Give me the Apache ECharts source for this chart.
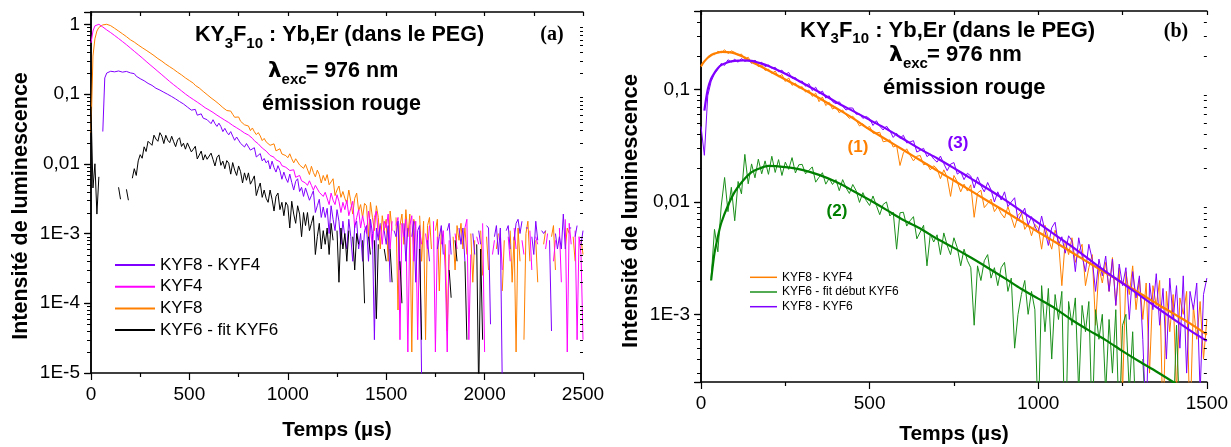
<!DOCTYPE html>
<html>
<head>
<meta charset="utf-8">
<script src="https://cdn.jsdelivr.net/npm/echarts@6/dist/echarts.min.js"></script>
<style>
html, body { margin: 0; padding: 0; background: #fff; }
#chart { width: 1231px; height: 447px; }
</style>
</head>
<body>
<div id="chart"></div>
<script>
// ---------- Panel (a): decay curves, sampled every 10 µs from 0 to 2500 µs ----------
const stepA = 10;

// KYF8 (orange)
const kyf8A = [
  0.028, 0.35, 0.62, 0.80, 0.90, 0.95, 0.98, 0.995, 1.0, 0.99,
  0.955, 0.91, 0.875, 0.83, 0.80, 0.76, 0.73, 0.695, 0.665, 0.63,
  0.60, 0.58, 0.555, 0.525, 0.505, 0.48, 0.462, 0.44, 0.425, 0.405,
  0.39, 0.375, 0.356, 0.345, 0.322, 0.312, 0.296, 0.284, 0.268, 0.258,
  0.246, 0.232, 0.226, 0.212, 0.205, 0.194, 0.188, 0.176, 0.17, 0.161,
  0.156, 0.147, 0.143, 0.133, 0.128, 0.122, 0.116, 0.109, 0.105, 0.098,
  0.096, 0.088, 0.086, 0.080, 0.078, 0.072, 0.071, 0.064, 0.064, 0.058,
  0.0554, 0.0569, 0.0512, 0.0464, 0.0477, 0.0469, 0.0407, 0.0403, 0.0362, 0.0371,
  0.0348, 0.0299, 0.0326, 0.0288, 0.0262, 0.028, 0.0251, 0.0215, 0.0231, 0.0206,
  0.0216, 0.0184, 0.0188, 0.0193, 0.0153, 0.0158, 0.0164, 0.0138, 0.0145, 0.0131,
  0.0122, 0.0139, 0.0118, 0.0103, 0.0118, 0.0121, 0.0096, 0.0102, 0.0086, 0.0098,
  0.0092, 0.007, 0.0092, 0.0075, 0.0065, 0.0081, 0.007, 0.0053, 0.0068, 0.0057,
  0.007, 0.005, 0.0055, 0.0061, 0.0035, 0.0042, 0.0048, 0.0033, 0.004, 0.0032,
  0.0027, 0.0042, 0.0029, 0.0019, 0.0032, 0.0038, 0.0021, 0.0026, 0.0017, 0.0027,
  0.0025, 0.0009, 0.0028, 0.0017, 0.0011, 0.0025, 0.0017, 0.0006, 0.0018, 0.0011,
  0.0016, 0.0004, 0.0021, 0.0011, null, 0.0017, 0.00008, 0.0013, 0.0019, 0.0007,
  0.0022, 0.0009, 0.0019, 0.00002, 0.0016, 0.0012, null, 0.0018, 0.0004, 0.0015,
  0.00003, 0.0013, 0.0017, 0.0006, null, 0.0011, 0.0016, 0.00015, 0.0012, null,
  0.0007, 0.00004, 0.0005, null, 0.0009, 0.0003, 0.0013, 0.0008, 0.0014, 0.0006,
  0.0012, 0.0005, null, 0.0010, 0.0002, 0.0008, null, null, 0.0011, 0.00025,
  null, 0.0009, 0.0003, null, 0.0012, null, 0.0006, 0.0010, null, 0.00015,
  0.0008, null, null, 0.0011, 0.0002, 0.0009, 0.00002, 0.0012, 0.0004, null,
  0.00003, 0.0010, 0.0015, 0.0004, null, null, 0.0008, 0.0002, null, null,
  0.0007, 0.0011, null, null, 0.0009, 0.0013, 0.0003, null, 0.0007, null,
  null, 0.0006, 0.0012, 0.0010, null, 0.0009, 0.0004, null, null, 0.0008,
  0.0005
];

// KYF4 (magenta)
const kyf4A = [
  0.54, 0.80, 0.95, 0.995, 1.0, 0.96, 0.915, 0.87, 0.83, 0.795,
  0.76, 0.725, 0.69, 0.66, 0.625, 0.59, 0.565, 0.535, 0.51, 0.485,
  0.457, 0.435, 0.41, 0.39, 0.368, 0.347, 0.33, 0.31, 0.294, 0.278,
  0.263, 0.25, 0.236, 0.222, 0.211, 0.2, 0.189, 0.178, 0.169, 0.16,
  0.151, 0.143, 0.136, 0.129, 0.123, 0.117, 0.111, 0.105, 0.1, 0.095,
  0.091, 0.087, 0.0835, 0.079, 0.0765, 0.072, 0.07, 0.066, 0.0635, 0.061,
  0.059, 0.0555, 0.0545, 0.0512, 0.0498, 0.0475, 0.0458, 0.0436, 0.0422, 0.0398,
  0.039, 0.0378, 0.0355, 0.0348, 0.0328, 0.0318, 0.0302, 0.0292, 0.0276, 0.0265,
  0.0258, 0.0242, 0.0232, 0.0214, 0.0209, 0.0193, 0.0186, 0.0168, 0.0164, 0.0152,
  0.0151, 0.0132, 0.0138, 0.0124, 0.0114, 0.0118, 0.0107, 0.0094, 0.0098, 0.0089,
  0.0094, 0.008, 0.008, 0.0082, 0.0064, 0.0066, 0.0068, 0.0057, 0.006, 0.0053,
  0.0049, 0.0057, 0.0049, 0.0042, 0.0049, 0.0051, 0.0039, 0.0041, 0.0034, 0.0039,
  0.0038, 0.0026, 0.0038, 0.003, 0.0026, 0.0036, 0.0029, 0.002, 0.0028, 0.0022,
  0.003, 0.0018, 0.0023, 0.0029, 0.0012, 0.0017, 0.0022, 0.0012, 0.0018, 0.0013,
  0.001, 0.0021, 0.0013, 0.0006, 0.0017, 0.0021, 0.0009, 0.0013, 0.0007, 0.0015,
  0.0012, 0.0019, 0.0006, 0.0015, null, 0.0013, 0.0017, 0.00003, 0.0014, 0.0009,
  0.0016, 0.00002, 0.0013, 0.0018, 0.0004, 0.0015, 0.00003, 0.0011, 0.0007, null,
  0.0010, 0.0006, 0.0013, null, 0.0015, 0.00002, 0.0009, null, 0.0007, 0.0011,
  0.0003, 0.00002, 0.0008, null, null, 0.0010, 0.0006, null, 0.0004, null,
  0.0012, 0.0016, 0.00003, 0.0005, null, null, 0.0009, 0.0007, null, 0.0014,
  0.00002, null, 0.0006, null, 0.0005, 0.0008, null, null, 0.0010, 0.0003,
  null, null, 0.0009, 0.0004, null, 0.0012, 0.0006, null, null, 0.0008,
  0.0005, null, null, 0.0011, 0.0003, null, 0.0009, 0.0007, null, null,
  null, 0.0006, 0.0010, null, null, 0.0004, 0.0008, null, 0.0012, 0.0002,
  null, 0.0016, 0.00002, 0.0014, 0.0007, null, 0.0011, 0.00003, 0.0009, 0.0005,
  0.00003
];

// KYF8 - KYF4 (violet)
const kyf8m4A = [
  null, null, null, null, null, null, 0.029, 0.17, 0.20, 0.21,
  0.212, 0.222, 0.208, 0.218, 0.214, 0.221, 0.206, 0.219, 0.211, 0.205,
  0.201, 0.19, 0.196, 0.18, 0.182, 0.166, 0.17, 0.155, 0.152, 0.142,
  0.138, 0.133, 0.13, 0.121, 0.126, 0.114, 0.117, 0.106, 0.109, 0.099,
  0.1, 0.092, 0.094, 0.085, 0.087, 0.078, 0.082, 0.072, 0.074, 0.065,
  0.067, 0.0588, 0.0594, 0.0602, 0.0497, 0.0508, 0.052, 0.0451, 0.0468, 0.0429,
  0.0443, 0.0376, 0.0428, 0.0376, 0.0343, 0.0382, 0.0342, 0.0289, 0.0322, 0.0284,
  0.026, 0.0289, 0.0249, 0.0217, 0.0242, 0.0246, 0.0196, 0.0204, 0.0174, 0.0195,
  0.0193, 0.0157, 0.0163, 0.017, 0.0125, 0.0132, 0.014, 0.011, 0.0119, 0.0103,
  0.0111, 0.0084, 0.0109, 0.0088, 0.0076, 0.0094, 0.008, 0.006, 0.0076, 0.0062,
  0.0054, 0.0071, 0.0054, 0.0042, 0.0056, 0.0061, 0.004, 0.0046, 0.0034, 0.0045,
  0.0047, 0.003, 0.0035, 0.0041, 0.002, 0.0025, 0.0031, 0.0017, 0.0024, 0.0017,
  0.0023, 0.001, 0.0025, 0.0016, 0.0011, 0.0022, 0.0015, 0.0007, 0.0015, 0.0009,
  0.0006, 0.0016, 0.0009, 0.0004, 0.0013, 0.0015, 0.0006, 0.001, 0.0004, 0.0011,
  0.0013, 0.0004, 0.0016, 0.0010, 0.00003, 0.0012, 0.0008, 0.0014, null, 0.0011,
  0.0007, 0.0013, 0.0002, null, 0.0011, 0.0009, 0.0015, 0.0003, null, 0.0014,
  0.0004, 0.0012, null, 0.0009, 0.0015, 0.0002, 0.0011, 0.0013, 0.000008, null,
  null, 0.0008, 0.0004, null, 0.0010, null, 0.0006, 0.0009, 0.0013, 0.0005,
  null, 0.0011, 0.0014, 0.0005, null, 0.0009, null, 0.0012, 0.0007, 0.0012,
  0.0004, null, 0.0008, null, 0.0010, 0.0005, null, 0.0011, 0.0007, null,
  null, 0.0013, 0.0012, 0.00005, null, 0.0009, 0.0013, 0.0005, 0.0012, 0.000006,
  null, 0.0011, 0.0013, 0.0006, null, 0.0008, 0.0014, 0.0016, 0.0010, 0.0015,
  null, 0.0012, 0.0012, null, 0.0009, 0.0005, 0.0015, 0.0008, null, 0.0011,
  0.0010, 0.0011, null, 0.0008, 0.00004, null, 0.0010, 0.0006, 0.0009, 0.0006,
  0.0019, 0.0006, null, 0.0012, 0.0012, null, 0.0009, 0.0013, null, 0.0007,
  0.0011
];

// KYF6 - fit KYF6 (black)
const kyf6A = [
  0.066, 0.0045, 0.010, 0.0019, 0.0065, null, null, null, null, null,
  null, null, null, null, 0.0046, 0.0031, null, null, 0.0043, 0.003,
  null, 0.0062, 0.0085, 0.0068, 0.011, 0.0135, 0.012, 0.0175, 0.015, 0.021,
  0.0221, 0.0184, 0.0257, 0.0226, 0.021, 0.0279, 0.0249, 0.0195, 0.0256, 0.0218,
  0.0201, 0.0248, 0.0207, 0.0176, 0.022, 0.0236, 0.0177, 0.0197, 0.0162, 0.0199,
  0.0193, 0.0148, 0.0162, 0.0178, 0.0117, 0.0133, 0.0152, 0.0113, 0.0135, 0.0116,
  0.0109, 0.0142, 0.0115, 0.0093, 0.0123, 0.0134, 0.0095, 0.0109, 0.0085, 0.0111,
  0.0102, 0.0071, 0.0104, 0.0081, 0.0068, 0.0093, 0.0077, 0.0053, 0.0074, 0.0058,
  0.0074, 0.0051, 0.0058, 0.0067, 0.0035, 0.0044, 0.0053, 0.0033, 0.0042, 0.0032,
  0.0028, 0.0042, 0.0031, 0.0021, 0.0034, 0.0038, 0.0022, 0.0028, 0.0018, 0.0028,
  0.0025, 0.0012, 0.0029, 0.0019, 0.0014, 0.0025, 0.0019, 0.0009, 0.002, 0.0013,
  0.002, 0.0011, 0.0014, 0.0018, 0.0005, 0.0009, 0.0014, 0.0006, 0.0011, 0.0007,
  0.0012, 0.0005, 0.0014, 0.0008, null, 0.0011, 0.0002, 0.0012, 0.0006, 0.0010,
  0.0004, 0.0011, null, 0.0009, 0.0003, 0.0010, 0.0007, null, 0.0008, 0.0001,
  null, 0.0009, 0.0005, null, 0.0008, 0.00006, 0.0007, null, null, 0.0006,
  0.0004, null, 0.0006, 0.0002, null, null, null, 0.0004, 0.0001, null,
  null, null, null, null, null, null, null, 0.0006, 0.00003, null,
  null, null, null, null, null, null, null, null, null, null,
  null, null, 0.0003, 0.00012, null, 0.0008, 0.0004, null, null, null,
  0.0004, 0.00003, null, null, null, null, 0.0007, 0.000005, 0.0006, 0.00003,
  null, null, null, null, null, null, null, null, null, null,
  null, null, null, null, null, null, null, null, null, null,
  null, null, null, null, null, null, null, null, null, null,
  null, null, null, null, null, null, null, null, null, null,
  null, null, null, null, null, null, null, null, null, null,
  null
];

// ---------- Panel (b): sampled every 10 µs from 0 to 1500 µs ----------
const stepB = 10;

// KYF8 - KYF4 (orange, measured)
const kyf8m4B = [
  0.158, 0.181, 0.19, 0.206, 0.204, 0.219, 0.212, 0.226, 0.209, 0.221,
  0.214, 0.202, 0.207, 0.186, 0.194, 0.172, 0.178, 0.16, 0.166, 0.148,
  0.152, 0.139, 0.146, 0.13, 0.136, 0.118, 0.127, 0.109, 0.114, 0.103,
  0.106, 0.095, 0.099, 0.087, 0.093, 0.078, 0.086, 0.072, 0.077, 0.067,
  0.0698, 0.0621, 0.0658, 0.0597, 0.0554, 0.058, 0.0532, 0.0474, 0.0496, 0.0453,
  0.0469, 0.0409, 0.0411, 0.0417, 0.0343, 0.0348, 0.0357, 0.0308, 0.0318, 0.0211,
  0.0273, 0.0297, 0.0261, 0.0232, 0.0255, 0.0259, 0.0214, 0.022, 0.0193, 0.021,
  0.0197, 0.0161, 0.0193, 0.0165, 0.0112, 0.0172, 0.0151, 0.0123, 0.0144, 0.0125,
  0.0142, 0.0073, 0.012, 0.0127, 0.0089, 0.0097, 0.0106, 0.0082, 0.0091, 0.0079,
  0.0072, 0.0091, 0.0073, 0.0059, 0.0076, 0.0082, 0.0057, 0.0064, 0.005, 0.0063,
  0.0059, 0.0038, 0.0062, 0.0047, 0.0038, 0.0056, 0.0045, 0.0018, 0.0045, 0.0034,
  0.0048, 0.0029, 0.0036, 0.0042, 0.0018, 0.0026, 0.0034, 0.0008, 0.0026, 0.0019,
  0.0029, 0.0016, 0.0032, 0.0012, 0.0026, 0.0002, 0.0024, 0.0015, 0.0027, 0.0011,
  0.0021, 0.0009, 0.0019, 0.0003, 0.0018, 0.0012, 0.0020, 0.0001, 0.0016, 0.0007,
  0.0015, 0.0002, 0.0014, 0.0010, 0.0016, 0.0001, 0.0012, 0.0006, 0.0013, 0.0004,
  0.0009
];

// KYF6 - fit début KYF6 (green, measured)
const kyf6B = [
  null, null, null, 0.0021, 0.0057, 0.0036, 0.0092, 0.0165, 0.0082, 0.0135,
  0.0068, 0.0152, 0.0118, 0.0265, 0.0145, 0.0218, 0.0164, 0.024, 0.0178, 0.0232,
  0.0176, 0.0255, 0.0183, 0.0238, 0.0172, 0.0226, 0.0195, 0.0248, 0.0181, 0.0214,
  0.0216, 0.0178, 0.0191, 0.0205, 0.015, 0.0166, 0.0182, 0.0144, 0.0162, 0.0143,
  0.0158, 0.0126, 0.0158, 0.0134, 0.0119, 0.0143, 0.0126, 0.0099, 0.0121, 0.0103,
  0.0093, 0.0113, 0.0093, 0.0077, 0.0095, 0.01, 0.0075, 0.0081, 0.0038, 0.008,
  0.0081, 0.0061, 0.0068, 0.0074, 0.0047, 0.0054, 0.0062, 0.0027, 0.0052, 0.0044,
  0.0051, 0.0034, 0.0053, 0.0041, 0.0034, 0.0048, 0.0039, 0.0027, 0.0038, 0.003,
  0.0026, 0.0008, 0.0027, 0.002, 0.003, 0.0034, 0.0021, 0.0026, 0.0018, 0.0026,
  0.0029, 0.0016, 0.0021, 0.0005, 0.001, 0.0015, 0.002, 0.001, 0.0016, 0.0011,
  0.0001, 0.0018, 0.0007, 0.0017, 0.0004, 0.0015, 0.0009, 0.0016, 0.00005, 0.0013,
  0.0008, 0.0014, 0.0002, 0.0012, 0.0007, 0.0013, 0.0001, 0.0011, 0.0006, 0.0010,
  0.0002, 0.0009, 0.0003, 0.0011, 0.0001, 0.0008, 0.0010, 0.0002, 0.0007, 0.0001,
  null, 0.0004, 0.0001, null, null, null, null, null, null, null,
  0.0001, 0.0008, 0.0001, null, null, null, null, null, null, null,
  null
];

// KYF8 - KYF6 (violet, measured)
const kyf8m6B = [
  0.047, 0.026, 0.088, 0.118, 0.138, 0.152, 0.171, 0.164, 0.184, 0.176,
  0.186, 0.175, 0.189, 0.178, 0.184, 0.172, 0.183, 0.169, 0.175, 0.16,
  0.166, 0.154, 0.158, 0.144, 0.149, 0.136, 0.142, 0.126, 0.128, 0.117,
  0.119, 0.107, 0.113, 0.098, 0.105, 0.092, 0.097, 0.084, 0.088, 0.078,
  0.0748, 0.0779, 0.0712, 0.0657, 0.0686, 0.0685, 0.0603, 0.0607, 0.0554, 0.0577,
  0.055, 0.0479, 0.0528, 0.0473, 0.0437, 0.0473, 0.0431, 0.0375, 0.0408, 0.0368,
  0.0392, 0.0335, 0.0342, 0.0351, 0.0278, 0.0288, 0.03, 0.0253, 0.0267, 0.0241,
  0.0226, 0.0256, 0.0219, 0.019, 0.0217, 0.0224, 0.0177, 0.0186, 0.0158, 0.018,
  0.017, 0.0133, 0.0167, 0.014, 0.0123, 0.0149, 0.0128, 0.01, 0.0123, 0.0104,
  0.0123, 0.0091, 0.01, 0.0109, 0.0068, 0.0078, 0.0088, 0.0062, 0.0074, 0.0061,
  0.0053, 0.0075, 0.0055, 0.0041, 0.0059, 0.0066, 0.0041, 0.0049, 0.0035, 0.005,
  0.0045, 0.0024, 0.0048, 0.0033, 0.0024, 0.0042, 0.0031, 0.0016, 0.0031, 0.0022,
  0.0033, 0.0016, 0.0031, 0.0012, 0.0028, 0.0018, 0.0026, 0.0009, 0.0024, 0.0014,
  0.0022, 0.0006, 0.0001, 0.0019, 0.0011, 0.0023, 0.0008, 0.0017, 0.0004, 0.0021,
  0.0009, 0.0018, 0.0005, 0.0022, 0.0003, 0.0016, 0.0011, 0.0019, 0.0002, 0.0015,
  0.0021
];

// Fitted curves of panel (b), given at these times (µs)
const fitTimesB = [0, 10, 20, 30, 40, 50, 60, 80, 100, 125, 150, 175, 200, 250, 300, 350, 400, 450,
  500, 550, 600, 650, 700, 750, 800, 850, 900, 950, 1000, 1050, 1100, 1150, 1200, 1250, 1300,
  1350, 1400, 1450, 1500];
const fitOrangeB = [0.162, 0.178, 0.192, 0.202, 0.209, 0.213, 0.216, 0.215, 0.21, 0.196, 0.177, 0.162,
  0.148, 0.123, 0.102, 0.084, 0.0686, 0.0557, 0.0441, 0.0358, 0.029, 0.0235, 0.019, 0.0155, 0.0126,
  0.0102, 0.0083, 0.0067, 0.0054, 0.0044, 0.00355, 0.00288, 0.00234, 0.0019, 0.00155, 0.00125,
  0.00102, 0.00083, 0.00066];
const fitVioletB = [null, 0.065, 0.1, 0.125, 0.141, 0.155, 0.165, 0.175, 0.18, 0.182, 0.18, 0.172,
  0.162, 0.138, 0.115, 0.095, 0.0776, 0.0646, 0.0537, 0.0447, 0.0363, 0.0295, 0.0245, 0.02, 0.0162,
  0.0131, 0.0105, 0.0083, 0.0065, 0.0051, 0.004, 0.0031, 0.0024, 0.00189, 0.00148, 0.00116,
  0.00091, 0.00072, 0.00058];
const fitGreenB = [null, null, null, 0.002, 0.0035, 0.0049, 0.0065, 0.0093, 0.0123, 0.0155, 0.0184,
  0.0199, 0.0209, 0.0204, 0.0193, 0.0174, 0.0151, 0.0126, 0.0104, 0.0085, 0.0069, 0.0058, 0.0047,
  0.0039, 0.0032, 0.0026, 0.0021, 0.00168, 0.00138, 0.00113, 0.00089, 0.00072, 0.00059, 0.00047,
  0.00038, 0.00031, 0.00025, 0.0002, 0.00016];

// Tick labels of the logarithmic axes, keyed by decade exponent
const decadeExps = [-5, -4, -3, -2, -1, 0];
const decadeLabels = ['1E-5', '1E-4', '1E-3', '0,01', '0,1', '1'];

// Legend entries
const legendA = ['KYF8 - KYF4', 'KYF4', 'KYF8', 'KYF6 - fit KYF6'];
const legendB = ['KYF8 - KYF4', 'KYF6 - fit début KYF6', 'KYF8 - KYF6'];

// ---------- helpers ----------
const FONT = '"Liberation Sans", Arial, sans-serif';
const SERIF = '"Liberation Serif", "Times New Roman", serif';
const black = '#000';
const toPairs = (vals, step) => vals.map((v, i) => [i * step, v]);
const zipPairs = (ts, vals) => ts.map((t, i) => [t, vals[i]]);

function decadeFormatter(v) {
  const e = Math.log10(v);
  const r = Math.round(e);
  if (Math.abs(e - r) > 1e-6) return '';
  const k = decadeExps.indexOf(r);
  return k >= 0 ? decadeLabels[k] : '';
}

// 2..9 × 10^n positions between the axis limits (minor ticks of a log axis)
function minorLogTicks(lo, hi) {
  const out = [];
  for (let e = Math.floor(Math.log10(lo)); e <= Math.ceil(Math.log10(hi)); e++) {
    for (let k = 2; k <= 9; k++) {
      const v = k * Math.pow(10, e);
      if (v > lo && v < hi) out.push(v);
    }
  }
  return out;
}

function logAxes(gridIndex, min, max) {
  const base = {
    type: 'log', logBase: 10, gridIndex, min, max,
    splitLine: { show: false }, minorSplitLine: { show: false }
  };
  return [
    Object.assign({}, base, {
      position: 'left',
      axisLine: { show: true, lineStyle: { color: black, width: 1.5 } },
      axisTick: { show: true, inside: false, length: 7, lineStyle: { color: black, width: 1.2 } },
      axisLabel: { show: true, formatter: decadeFormatter, color: black, fontSize: 19, fontFamily: FONT, margin: 11 }
    }),
    Object.assign({}, base, {
      position: 'right',
      axisLine: { show: true, lineStyle: { color: black, width: 1.5 } },
      axisTick: { show: true, inside: true, length: 6, lineStyle: { color: black, width: 1.2 } },
      axisLabel: { show: false }
    })
  ];
}

function timeAxes(gridIndex, max) {
  return [
    {
      type: 'value', gridIndex, min: 0, max, interval: 500, position: 'bottom',
      splitLine: { show: false },
      axisLine: { show: true, onZero: false, lineStyle: { color: black, width: 1.5 } },
      axisTick: { show: true, inside: false, length: 7, lineStyle: { color: black, width: 1.2 } },
      minorTick: { show: true, splitNumber: 2, length: 4, lineStyle: { color: black, width: 1.2 } },
      axisLabel: { color: black, fontSize: 19, fontFamily: FONT, margin: 12, formatter: v => String(v) }
    },
    {
      type: 'value', gridIndex, min: 0, max, interval: 250, position: 'top',
      splitLine: { show: false },
      axisLine: { show: true, onZero: false, lineStyle: { color: black, width: 1.5 } },
      axisTick: { show: true, inside: true, length: 4, lineStyle: { color: black, width: 1.2 } },
      axisLabel: { show: false }
    }
  ];
}

// Short horizontal ticks drawn at the minor log positions, on both vertical frame sides
function minorTickSeries(name, xIdx, yIdx, xEdge, lo, hi, len) {
  return {
    name, type: 'custom', xAxisIndex: xIdx, yAxisIndex: yIdx, silent: true, clip: false, z: 5,
    animation: false,
    data: minorLogTicks(lo, hi).map(v => [xEdge, v]),
    renderItem: (params, api) => {
      const p = api.coord([api.value(0), api.value(1)]);
      const y = Math.round(p[1]) + 0.5;
      return {
        type: 'line', silent: true,
        shape: { x1: p[0], y1: y, x2: p[0] - len, y2: y },
        style: { stroke: black, lineWidth: 1 }
      };
    }
  };
}

// ---------- text blocks ----------
const measureCtx = document.createElement('canvas').getContext('2d');
function textRun(x, baseline, parts, color) {
  const els = [];
  let cx = x;
  parts.forEach(p => {
    const fam = p.family || FONT;
    const font = 'bold ' + p.size + 'px ' + fam;
    measureCtx.font = font;
    const w = measureCtx.measureText(p.text).width;
    els.push({
      type: 'text', silent: true,
      x: cx, y: baseline + (p.dy || 0) - 0.35 * p.size,
      style: { text: p.text, font, fill: color || black, align: 'left', verticalAlign: 'middle' }
    });
    cx += w + (p.after || 0);
  });
  return els;
}

function titleBlock(x1, b1, x2, b2, x3, b3, size) {
  const sub = Math.round(size * 0.7);
  return [].concat(
    textRun(x1, b1, [
      { text: 'KY', size }, { text: '3', size: sub, dy: 6 }, { text: 'F', size },
      { text: '10', size: sub, dy: 6 }, { text: ' : Yb,Er (dans le PEG)', size }
    ]),
    textRun(x2, b2, [
      { text: 'λ', size, family: '"DejaVu Sans", sans-serif' },
      { text: 'exc', size: sub, dy: 6, after: -1 }, { text: '= 976 nm', size }
    ]),
    textRun(x3, b3, [{ text: 'émission rouge', size }])
  );
}

function centered(text, x, y, size, opts) {
  return Object.assign({
    type: 'text', silent: true, x, y,
    style: { text, font: 'bold ' + size + 'px ' + FONT, fill: black, align: 'center', verticalAlign: 'middle' }
  }, opts || {});
}

const graphics = [].concat(
  titleBlock(195, 43, 268, 79, 262, 111.5, 21.5),
  titleBlock(800, 38.5, 889, 63, 883, 96, 22),
  [
    { type: 'text', silent: true, x: 552, y: 35,
      style: { text: '(a)', font: 'bold 20px ' + SERIF, fill: black, align: 'center', verticalAlign: 'middle' } },
    { type: 'text', silent: true, x: 1176, y: 32,
      style: { text: '(b)', font: 'bold 20px ' + SERIF, fill: black, align: 'center', verticalAlign: 'middle' } },
    centered('Intensité de luminescence', 21, 206, 21.5, { rotation: Math.PI / 2 }),
    centered('Intensité de luminescence', 631, 211, 22, { rotation: Math.PI / 2 }),
    centered('Temps (µs)', 337, 430, 21),
    centered('Temps (µs)', 954, 434, 21),
    { type: 'text', silent: true, x: 858, y: 147,
      style: { text: '(1)', font: 'bold 17px ' + FONT, fill: '#ff8000', align: 'center', verticalAlign: 'middle' } },
    { type: 'text', silent: true, x: 837, y: 211,
      style: { text: '(2)', font: 'bold 17px ' + FONT, fill: '#008000', align: 'center', verticalAlign: 'middle' } },
    { type: 'text', silent: true, x: 958, y: 143,
      style: { text: '(3)', font: 'bold 17px ' + FONT, fill: '#8000ff', align: 'center', verticalAlign: 'middle' } }
  ]
);

// ---------- series ----------
const VIOLET = '#8000ff', MAGENTA = '#ff00ff', ORANGE = '#ff8000', GREEN = '#008000';
function line(name, data, color, width, xIdx, yIdx, extra) {
  return Object.assign({
    name, type: 'line', data, xAxisIndex: xIdx, yAxisIndex: yIdx,
    symbol: 'none', showSymbol: false, connectNulls: false, clip: true,
    lineStyle: { color, width }, itemStyle: { color }, emphasis: { disabled: true },
    animation: false, silent: true
  }, extra || {});
}

const series = [
  line('a:KYF8', toPairs(kyf8A, stepA), ORANGE, 1, 0, 0),
  line('a:KYF4', toPairs(kyf4A, stepA), MAGENTA, 1, 0, 0),
  line('a:KYF8 - KYF4', toPairs(kyf8m4A, stepA), VIOLET, 1, 0, 0),
  line('a:KYF6 - fit KYF6', toPairs(kyf6A, stepA), black, 1, 0, 0),

  line('b:KYF8 - KYF4', toPairs(kyf8m4B, stepB), ORANGE, 1, 2, 2),
  line('b:KYF6 - fit début KYF6', toPairs(kyf6B, stepB), '#1a8f1a', 1, 2, 2),
  line('b:KYF8 - KYF6', toPairs(kyf8m6B, stepB), VIOLET, 1, 2, 2),
  line('fit (1)', zipPairs(fitTimesB, fitOrangeB), ORANGE, 2.2, 2, 2, { smooth: 0.3 }),
  line('fit (2)', zipPairs(fitTimesB, fitGreenB), GREEN, 2.2, 2, 2, { smooth: 0.3 }),
  line('fit (3)', zipPairs(fitTimesB, fitVioletB), VIOLET, 2.2, 2, 2, { smooth: 0.3 }),

  minorTickSeries('minor a left', 0, 0, 0, 1e-5, 1.5, 4),
  minorTickSeries('minor a right', 0, 0, 2500, 1e-5, 1.5, 3),
  minorTickSeries('minor b left', 2, 2, 0, 2.5e-4, 0.5, 4),
  minorTickSeries('minor b right', 2, 2, 1500, 2.5e-4, 0.5, 3)
];

const option = {
  animation: false,
  backgroundColor: '#fff',
  grid: [
    { left: 91, top: 12, width: 492, height: 361 },
    { left: 701, top: 11, width: 506, height: 371 }
  ],
  xAxis: [].concat(timeAxes(0, 2500), timeAxes(1, 1500)),
  yAxis: [].concat(logAxes(0, 1e-5, 1.5), logAxes(1, 2.5e-4, 0.5)),
  legend: [
    {
      orient: 'vertical', left: 115, top: 256.5, padding: 0, icon: 'rect',
      itemWidth: 40, itemHeight: 2, itemGap: 4.7, selectedMode: false,
      data: legendA.map(n => 'a:' + n), formatter: n => n.slice(2),
      textStyle: { color: black, fontSize: 17, lineHeight: 17, fontFamily: FONT }
    },
    {
      orient: 'vertical', left: 750, top: 271.3, padding: 0, icon: 'rect',
      itemWidth: 27, itemHeight: 1.5, itemGap: 2.7, selectedMode: false,
      data: legendB.map(n => 'b:' + n), formatter: n => n.slice(2),
      textStyle: { color: black, fontSize: 12, lineHeight: 12, fontFamily: FONT }
    }
  ],
  graphic: graphics,
  series
};

const chart = echarts.init(document.getElementById('chart'), null, { renderer: 'canvas' });
chart.setOption(option);
</script>
</body>
</html>
